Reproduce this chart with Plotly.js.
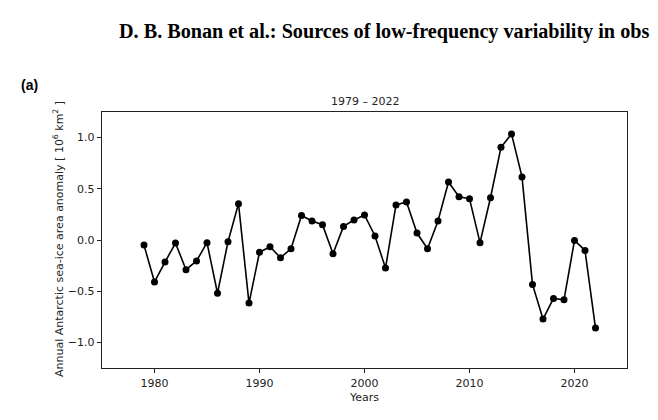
<!DOCTYPE html>
<html>
<head>
<meta charset="utf-8">
<script src="https://cdn.plot.ly/plotly-3.0.1.min.js"></script>
<style>html,body{margin:0;padding:0;background:#fff;}#chart{width:658px;height:420px;}</style>
</head>
<body>
<div id="chart"></div>
<script>
const years = [1979,1980,1981,1982,1983,1984,1985,1986,1987,1988,1989,1990,1991,1992,1993,1994,1995,1996,1997,1998,1999,2000,2001,2002,2003,2004,2005,2006,2007,2008,2009,2010,2011,2012,2013,2014,2015,2016,2017,2018,2019,2020,2021,2022];
const anomaly = [-0.05,-0.41,-0.215,-0.03,-0.29,-0.205,-0.026,-0.52,-0.017,0.355,-0.616,-0.12,-0.066,-0.173,-0.085,0.24,0.186,0.15,-0.134,0.133,0.195,0.244,0.039,-0.274,0.342,0.371,0.068,-0.085,0.186,0.567,0.423,0.404,-0.026,0.413,0.905,1.036,0.616,-0.434,-0.772,-0.571,-0.584,-0.004,-0.102,-0.86];
const yTicks = [-1.0,-0.5,0.0,0.5,1.0];
const xTicks = [1980,1990,2000,2010,2020];

const tickFont = {family:'DejaVu Sans', size:11, color:'#222'};
const trace = {
  x: years, y: anomaly, type:'scatter', mode:'lines+markers',
  line:{color:'#000', width:1.6},
  marker:{color:'#000', size:7},
  hoverinfo:'x+y'
};
const layout = {
  width:658, height:420,
  margin:{l:102, r:31, t:112, b:52},
  paper_bgcolor:'#fff', plot_bgcolor:'#fff',
  showlegend:false,
  xaxis:{
    range:[1975,2025], tickvals:xTicks, ticktext:xTicks.map(String),
    ticks:'outside', ticklen:4, tickwidth:1, tickcolor:'#222',
    showgrid:false, zeroline:false, showline:true, mirror:true,
    linecolor:'#222', linewidth:1.3, tickfont:tickFont,
    title:{text:'Years', font:{family:'DejaVu Sans', size:11, color:'#222'}, standoff:4}
  },
  yaxis:{
    range:[-1.25,1.25], tickvals:yTicks, tickformat:'.1f',
    ticks:'outside', ticklen:4, tickwidth:1, tickcolor:'#222',
    showgrid:false, zeroline:false, showline:true, mirror:true,
    linecolor:'#222', linewidth:1.3, tickfont:tickFont
  },
  annotations:[
    {text:'<b>D. B. Bonan et al.: Sources of low-frequency variability in obs</b>',
     xref:'paper', yref:'paper', x:(117-102)/525, y:(368-31)/256, xanchor:'left', yanchor:'middle',
     showarrow:false, font:{family:'Liberation Serif', size:20.2, color:'#000'}},
    {text:'<b>(a)</b>', xref:'paper', yref:'paper', x:(19-102)/525, y:(368-85)/256,
     xanchor:'left', yanchor:'middle', showarrow:false,
     font:{family:'Liberation Sans', size:14, color:'#000'}},
    {text:'1979 – 2022', xref:'paper', yref:'paper', x:0.5, y:(368-101)/256,
     xanchor:'center', yanchor:'middle', showarrow:false,
     font:{family:'DejaVu Sans', size:11, color:'#222'}},
    {text:'Annual Antarctic sea-ice area anomaly [ 10<sup>6</sup> km<sup>2</sup> ]',
     xref:'paper', yref:'paper', x:(58-102)/525, y:(368-239)/256, textangle:-90,
     xanchor:'center', yanchor:'middle', showarrow:false,
     font:{family:'DejaVu Sans', size:11, color:'#222'}}
  ]
};
Plotly.newPlot('chart', [trace], layout, {displayModeBar:false, staticPlot:true});
</script>
</body>
</html>
